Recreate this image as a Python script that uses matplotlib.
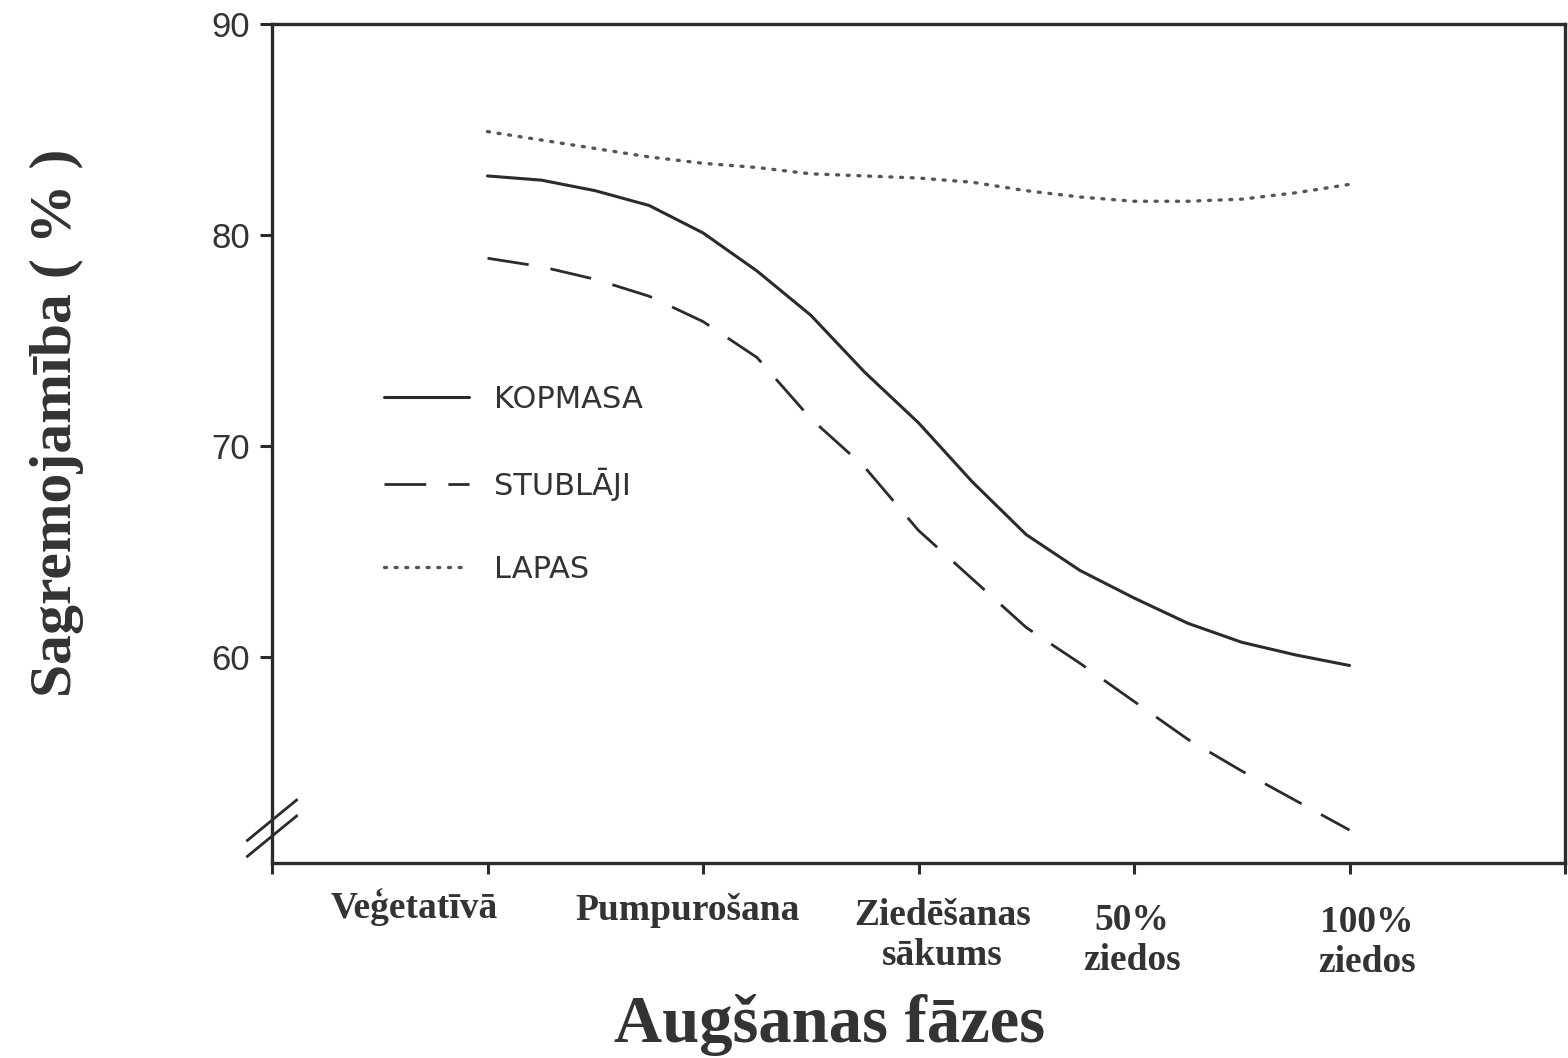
import matplotlib.pyplot as plt
import numpy as np

# growth stages (x axis) and the positions where the curves were read
stages = ["Veģetatīvā", "Pumpurošana", "Ziedēšanas\nsākums", "50%\nziedos", "100%\nziedos"]
x_read = [1.0, 1.25, 1.5, 1.75, 2.0, 2.25, 2.5, 2.75, 3.0,
          3.25, 3.5, 3.75, 4.0, 4.25, 4.5, 4.75, 5.0]

# digestibility (%)
kopmasa = [82.8, 82.6, 82.1, 81.4, 80.1, 78.3, 76.2, 73.5, 71.1,
           68.3, 65.8, 64.1, 62.8, 61.6, 60.7, 60.1, 59.6]
stublaji = [78.9, 78.5, 77.9, 77.1, 75.9, 74.2, 71.3, 69.0, 66.0,
            63.7, 61.4, 59.7, 57.9, 56.1, 54.6, 53.2, 51.8]
lapas = [84.9, 84.5, 84.1, 83.7, 83.4, 83.2, 82.9, 82.8, 82.7,
         82.5, 82.1, 81.8, 81.6, 81.6, 81.7, 82.0, 82.4]

yticks = [60, 70, 80, 90]
ink = "#2b2b2b"

fig = plt.figure(figsize=(15.68, 10.58), dpi=100)
ax = fig.add_axes([272 / 1568, 1 - 863 / 1058, (1565 - 272) / 1568, (863 - 24) / 1058])

l1, = ax.plot(x_read, kopmasa, color=ink, lw=2.2, solid_capstyle="round")
l2, = ax.plot(x_read, stublaji, color=ink, lw=2.0, linestyle=(0, (15, 8)))
l3, = ax.plot(x_read, lapas, color="#555555", lw=2.4, linestyle=(0, (0.6, 2.6)),
              dash_capstyle="round")

ax.set_xlim(0, 6)
ax.set_ylim(50.24, 90)
ax.set_yticks(yticks)
ax.set_xticks(range(0, 7))
ax.set_xticklabels([])
for s in ax.spines.values():
    s.set_linewidth(2.4)
    s.set_color(ink)
ax.tick_params(axis="y", direction="out", length=9, width=2.2, color=ink,
               labelsize=25, labelcolor="#333333", pad=7)
ax.tick_params(axis="x", direction="out", length=8, width=2.2, color=ink)
for lab in ax.get_yticklabels():
    lab.set_family("Liberation Sans")

# category labels, slightly off the ticks as in the print
label_dx = [-0.34, -0.07, 0.11, -0.01, 0.08]
label_top = [-0.030, -0.036, -0.042, -0.048, -0.050]
for i, name in enumerate(stages):
    ax.text(i + 1 + label_dx[i], label_top[i], name, transform=ax.get_xaxis_transform(),
            ha="center", va="top", fontsize=27, fontweight="bold", color="#333333",
            family="Liberation Serif", linespacing=1.18)

# axis break marks on the left spine
for y0 in (0.027, 0.008):
    ax.plot([-0.019, 0.019], [y0, y0 + 0.048], transform=ax.transAxes,
            color=ink, lw=2.0, clip_on=False)

fig.text(0.036, 0.60, "Sagremojamība ( % )", rotation=90, ha="center", va="center",
         fontsize=43, fontweight="bold", color="#333333", family="Liberation Serif")
fig.text(0.529, 0.031, "Augšanas fāzes", ha="center", va="center",
         fontsize=48, fontweight="bold", color="#333333", family="Liberation Serif")

ax.legend([l1, l2, l3], ["KOPMASA", "STUBLĀJI", "LAPAS"], loc="upper left",
          bbox_to_anchor=(0.087, 0.570), frameon=False, fontsize=22,
          handlelength=2.78, handletextpad=0.82, labelspacing=1.76,
          borderpad=0, borderaxespad=0, labelcolor="#333333")

fig.savefig("out.png", dpi=100)
